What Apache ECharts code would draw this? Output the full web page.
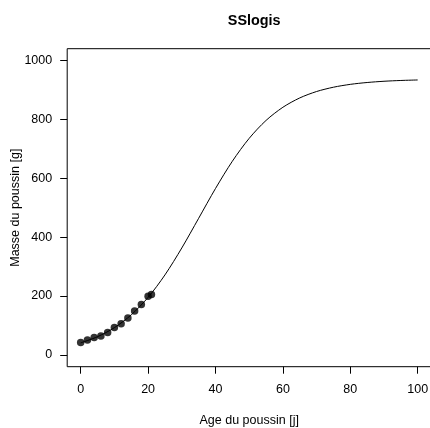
<!DOCTYPE html>
<html>
<head>
<meta charset="utf-8">
<script src="https://cdn.jsdelivr.net/npm/echarts@6/dist/echarts.min.js"></script>
<style>html,body{margin:0;padding:0;background:#fff}#c{width:430px;height:428px}</style>
</head>
<body>
<div id="c"></div>
<script>
// Observed chick data
const ages = [0, 2, 4, 6, 8, 10, 12, 14, 16, 18, 20, 21];
const weights = [42, 51, 59, 64, 76, 93, 106, 125, 149, 171, 199, 205];
// Fitted curve values
const curveAge = [0, 5, 10, 15, 20, 25, 30, 35, 40, 45, 50, 55, 60, 65, 70, 75, 80, 85, 90, 95, 100];
const curveMass = [40.9, 61.9, 92.6, 136.2, 195.4, 271.7, 363.2, 464.0, 565.2, 657.8, 735.6, 796.4, 841.1, 872.8, 894.6, 909.2, 918.9, 925.2, 929.4, 932.1, 933.8];
// Tick labels
const xTicks = [0, 20, 40, 60, 80, 100];
const yTicks = [0, 200, 400, 600, 800, 1000];
const titleText = 'SSlogis';
const xTitle = 'Age du poussin [j]';
const yTitle = 'Masse du poussin [g]';

const FONT = 'Liberation Sans, Arial, Helvetica, sans-serif';
const chart = echarts.init(document.getElementById('c'), null, {renderer: 'canvas'});
chart.setOption({
  animation: false,
  backgroundColor: '#fff',
  title: {
    text: titleText, left: 249.2, top: 9, textAlign: 'center',
    textStyle: {fontSize: 14.4, fontWeight: 'bold', fontFamily: FONT, color: '#000'}
  },
  grid: {
    left: 67.2, top: 48.7, width: 364, height: 318,
    outerBoundsMode: 'none', containLabel: false,
    show: true, borderColor: '#000', borderWidth: 1, backgroundColor: 'transparent'
  },
  xAxis: {
    type: 'value', min: -4, max: 104,
    name: xTitle, nameLocation: 'middle', nameGap: 47, nameMoveOverlap: false,
    nameTextStyle: {fontSize: 12.5, fontFamily: FONT, color: '#000'},
    axisLine: {show: false, onZero: false},
    axisTick: {show: true, inside: false, customValues: xTicks, length: 7, lineStyle: {color: '#000', width: 1}},
    axisLabel: {customValues: xTicks, margin: 16, fontSize: 12.5, fontFamily: FONT, color: '#000', formatter: v => String(v)},
    splitLine: {show: false}
  },
  yAxis: {
    type: 'value', min: -40, max: 1040,
    name: yTitle, nameLocation: 'middle', nameGap: 45, nameMoveOverlap: false,
    nameTextStyle: {fontSize: 12.5, fontFamily: FONT, color: '#000'},
    axisLine: {show: false, onZero: false},
    axisTick: {show: true, inside: false, customValues: yTicks, length: 7, lineStyle: {color: '#000', width: 1}},
    axisLabel: {customValues: yTicks, margin: 15, fontSize: 12.5, fontFamily: FONT, color: '#000', formatter: v => String(v)},
    splitLine: {show: false}
  },
  series: [
    {
      type: 'line',
      data: curveAge.map((a, i) => [a, curveMass[i]]),
      smooth: 0.3,
      showSymbol: false,
      lineStyle: {color: '#000', width: 1},
      z: 2
    },
    {
      type: 'scatter',
      data: ages.map((a, i) => [a, weights[i]]),
      symbol: 'circle', symbolSize: 7.5,
      itemStyle: {color: '#000'},
      z: 3
    }
  ]
});
</script>
</body>
</html>
